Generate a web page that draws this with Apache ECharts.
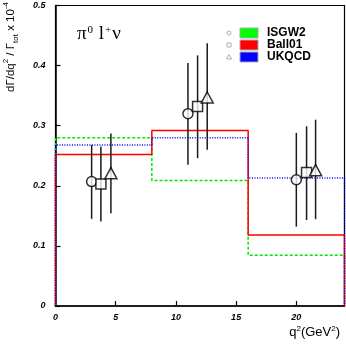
<!DOCTYPE html>
<html><head><meta charset="utf-8">
<script src="https://cdn.jsdelivr.net/npm/echarts@6/dist/echarts.min.js"></script>
<style>html,body{margin:0;padding:0;background:#fff}#c{width:346px;height:346px}</style>
</head><body><div id="c"></div>
<script>
// Model predictions per q^2 bin
var binEdges = [0, 8, 16, 24];
var isgw2 = [0.280, 0.209, 0.0845];
var ball01 = [0.252, 0.292, 0.118];
var ukqcd = [0.268, 0.280, 0.213];
// Measured points (three extraction variants)
var circX = [3.0, 11.0, 20.0];
var circY = [0.207, 0.320, 0.210];
var circLo = [0.145, 0.235, 0.132];
var circHi = [0.268, 0.4045, 0.288];
var sqX = [3.77, 11.8, 20.85];
var sqY = [0.203, 0.332, 0.222];
var sqLo = [0.1405, 0.246, 0.143];
var sqHi = [0.2655, 0.417, 0.299];
var triX = [4.6, 12.6, 21.6];
var triY = [0.221, 0.347, 0.226];
var triLo = [0.1545, 0.260, 0.1445];
var triHi = [0.287, 0.437, 0.310];
var xTicks = [0, 5, 10, 15, 20];
var legendNames = ['ISGW2', 'Ball01', 'UKQCD'];

function histData(vals) {
  var d = [[binEdges[0], 0]];
  for (var i = 0; i < vals.length; i++) d.push([binEdges[i], vals[i]]);
  d.push([binEdges[binEdges.length - 1], vals[vals.length - 1]]);
  d.push([binEdges[binEdges.length - 1], 0]);
  return d;
}
function pts(x, y) { return x.map(function (v, i) { return [v, y[i]]; }); }
function errs(x, lo, hi) { return x.map(function (v, i) { return [v, lo[i], hi[i]]; }); }
function errRender(params, api) {
  var a = api.coord([api.value(0), api.value(1)]);
  var b = api.coord([api.value(0), api.value(2)]);
  return { type: 'line', shape: { x1: a[0], y1: a[1], x2: b[0], y2: b[1] },
    style: { stroke: '#1a1a1a', lineWidth: 1.5 } };
}
var tickFont = { fontFamily: 'Liberation Sans', fontStyle: 'italic', fontWeight: 'bold', fontSize: 9, color: '#000' };
var markStyle = { color: '#fff', borderColor: '#000', borderWidth: 1.5 };

var chart = echarts.init(document.getElementById('c'), null, { renderer: 'canvas' });
chart.setOption({
  animation: false,
  backgroundColor: '#fff',
  grid: { left: 55.5, right: 1.5, top: 5.5, bottom: 40, show: true, borderColor: '#000', borderWidth: 1.2, backgroundColor: 'transparent' },
  xAxis: {
    type: 'value', min: 0, max: 24, interval: 5,
    axisLine: { lineStyle: { color: '#000', width: 1.5 } },
    axisTick: { inside: true, length: 5, customValues: xTicks, lineStyle: { color: '#000', width: 1.2 } },
    axisLabel: Object.assign({ margin: 7, customValues: xTicks }, tickFont),
    splitLine: { show: false }
  },
  yAxis: {
    type: 'value', min: 0, max: 0.5, interval: 0.1,
    axisLine: { lineStyle: { color: '#000', width: 1.5 } },
    axisTick: { inside: true, length: 5, lineStyle: { color: '#000', width: 1.2 } },
    axisLabel: Object.assign({ margin: 10 }, tickFont),
    splitLine: { show: false }
  },
  series: [
    { name: 'ISGW2', type: 'line', step: 'end', data: histData(isgw2), showSymbol: false, z: 2,
      lineStyle: { color: '#00e600', width: 1.5, type: [3, 2] } },
    { name: 'Ball01', type: 'line', step: 'end', data: histData(ball01), showSymbol: false, z: 2,
      lineStyle: { color: '#ff0000', width: 1.5 } },
    { name: 'UKQCD', type: 'line', step: 'end', data: histData(ukqcd), showSymbol: false, z: 2,
      lineStyle: { color: '#0000ff', width: 1.5, type: [1, 1.5] } },
    { type: 'custom', renderItem: errRender, data: errs(circX, circLo, circHi), z: 3 },
    { type: 'custom', renderItem: errRender, data: errs(sqX, sqLo, sqHi), z: 3 },
    { type: 'custom', renderItem: errRender, data: errs(triX, triLo, triHi), z: 3 },
    { type: 'scatter', symbol: 'circle', symbolSize: 10, data: pts(circX, circY), itemStyle: markStyle, z: 4 },
    { type: 'scatter', symbol: 'rect', symbolSize: 10, data: pts(sqX, sqY), itemStyle: markStyle, z: 4 },
    { type: 'scatter', symbol: 'triangle', symbolSize: [12, 11], data: pts(triX, triY), itemStyle: markStyle, z: 4 }
  ],
  graphic: [
    { type: 'text', x: 77, y: 44, style: {
        text: '{g|π}{s|0}{g| l}{s|+}{g|ν}', verticalAlign: 'bottom',
        rich: { g: { fontFamily: 'Liberation Serif', fontSize: 19, lineHeight: 18, verticalAlign: 'bottom' },
                s: { fontFamily: 'Liberation Serif', fontSize: 11, lineHeight: 11, verticalAlign: 'bottom', padding: [0, 1, 8, 1] } } } },
    { type: 'text', x: 14, y: 47, rotation: Math.PI / 2, style: {
        text: '{n|dΓ/dq}{sup|2}{n| / Γ}{sub|tot}{n| x 10}{sup|-4}', align: 'center', verticalAlign: 'middle',
        rich: { n: { fontFamily: 'Liberation Sans', fontSize: 11.5, lineHeight: 12, verticalAlign: 'bottom', padding: [0, 0, 3, 0] },
                sup: { fontFamily: 'Liberation Sans', fontSize: 8, lineHeight: 8, verticalAlign: 'bottom', padding: [0, 0, 10, 0] },
                sub: { fontFamily: 'Liberation Sans', fontSize: 8, lineHeight: 8, verticalAlign: 'bottom', padding: [0, 0, 0, 0] } } } },
    { type: 'text', x: 340, y: 339, style: {
        text: '{n|q}{sup|2}{n|(GeV}{sup|2}{n|)}', align: 'right', verticalAlign: 'bottom',
        rich: { n: { fontFamily: 'Liberation Sans', fontSize: 13, lineHeight: 13, verticalAlign: 'bottom' },
                sup: { fontFamily: 'Liberation Sans', fontSize: 8, lineHeight: 8, verticalAlign: 'bottom', padding: [0, 0, 6, 0] } } } },
    // legend
    { type: 'circle', shape: { cx: 229, cy: 33, r: 2 }, style: { fill: 'none', stroke: '#999', lineWidth: 0.8 } },
    { type: 'rect', shape: { x: 227, y: 43, width: 4, height: 4 }, style: { fill: 'none', stroke: '#999', lineWidth: 0.8 } },
    { type: 'polygon', shape: { points: [[229, 54.5], [231.5, 59], [226.5, 59]] }, style: { fill: 'none', stroke: '#999', lineWidth: 0.8 } },
    { type: 'rect', shape: { x: 240, y: 28, width: 18, height: 10 }, style: { fill: '#00ff00', stroke: '#aaa', lineWidth: 1 } },
    { type: 'rect', shape: { x: 240, y: 40, width: 18, height: 10 }, style: { fill: '#ff0000', stroke: '#aaa', lineWidth: 1 } },
    { type: 'rect', shape: { x: 240, y: 52, width: 18, height: 10 }, style: { fill: '#0000ff', stroke: '#aaa', lineWidth: 1 } },
    { type: 'text', x: 267, y: 33, style: { text: legendNames[0], fontFamily: 'Liberation Sans', fontWeight: 'bold', fontSize: 12, fill: '#000', verticalAlign: 'middle' } },
    { type: 'text', x: 267, y: 45, style: { text: legendNames[1], fontFamily: 'Liberation Sans', fontWeight: 'bold', fontSize: 12, fill: '#000', verticalAlign: 'middle' } },
    { type: 'text', x: 267, y: 57, style: { text: legendNames[2], fontFamily: 'Liberation Sans', fontWeight: 'bold', fontSize: 12, fill: '#000', verticalAlign: 'middle' } }
  ]
});
</script>
</body></html>
